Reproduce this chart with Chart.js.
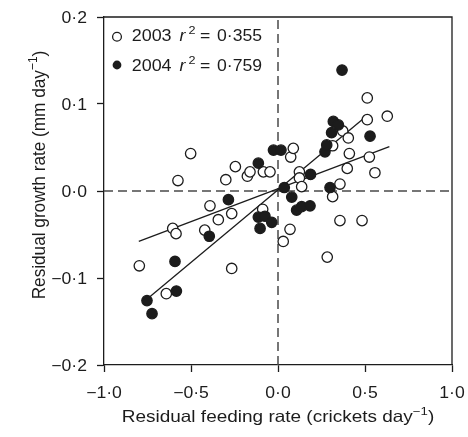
<!DOCTYPE html>
<html><head><meta charset="utf-8">
<script src="https://cdn.jsdelivr.net/npm/chart.js@4/dist/chart.umd.min.js"></script>
<style>html,body{margin:0;padding:0;background:#fff}#wrap{width:468px;height:437px;position:relative}</style>
</head><body><div id="wrap"><canvas id="c" width="468" height="437"></canvas></div>
<script>
// ---- data ----
const x2003 = [-0.797,-0.642,-0.605,-0.586,-0.575,-0.502,-0.421,-0.391,-0.343,-0.300,-0.266,-0.266,-0.245,-0.176,-0.161,-0.088,-0.084,-0.046,0.030,0.069,0.073,0.088,0.123,0.123,0.136,0.283,0.314,0.314,0.356,0.356,0.372,0.398,0.404,0.410,0.483,0.513,0.513,0.525,0.557,0.628];
const y2003 = [-0.086,-0.118,-0.043,-0.049,0.012,0.043,-0.045,-0.017,-0.033,0.013,-0.026,-0.089,0.028,0.017,0.022,-0.021,0.022,0.022,-0.058,-0.044,0.039,0.049,0.022,0.015,0.005,-0.076,0.052,-0.0065,0.008,-0.034,0.069,0.026,0.061,0.043,-0.034,0.082,0.107,0.039,0.021,0.086];
const x2004 = [-0.753,-0.724,-0.592,-0.584,-0.395,-0.285,-0.113,-0.113,-0.103,-0.075,-0.036,-0.026,0.017,0.036,0.079,0.107,0.136,0.184,0.187,0.270,0.280,0.299,0.308,0.318,0.347,0.368,0.529];
const y2004 = [-0.126,-0.141,-0.081,-0.115,-0.052,-0.010,0.032,-0.030,-0.043,-0.029,-0.036,0.047,0.047,0.004,-0.007,-0.022,-0.018,-0.017,0.019,0.045,0.053,0.004,0.067,0.080,0.076,0.139,0.063];
const fit2003X = [-0.80, 0.64];
const fit2003Y = [-0.058, 0.051];
const fit2004X = [-0.74, 0.49];
const fit2004Y = [-0.122, 0.083];
const xTicks = [-1.0, -0.5, 0.0, 0.5, 1.0];
const yTicks = [-0.2, -0.1, 0.0, 0.1, 0.2];
const legendYears = ['2003', '2004'];
const legendR2 = ['0·355', '0·759'];
const xTitle = ['Residual feeding rate (crickets day', '\u22121', ')'];
const yTitle = ['Residual growth rate (mm day', '\u22121', ')'];

const INK = '#1c1c1c';
const FONT = '"Liberation Sans", Arial, Helvetica, sans-serif';

const pts = (xs, ys) => xs.map((x, i) => ({x: x, y: ys[i]}));
const fmt = v => (v < -1e-9 ? '\u2212' : '') + Math.abs(v).toFixed(1).replace('.', '\u00B7');

// draw text horizontally stretched by sx, anchored at (x, y) baseline
function txt(ctx, s, x, y, size, sx, align, italic) {
  ctx.save();
  ctx.font = `${italic ? 'italic ' : ''}${size}px ${FONT}`;
  const w = ctx.measureText(s).width * sx;
  let left = align === 'center' ? x - w / 2 : (align === 'right' ? x - w : x);
  ctx.translate(left, y);
  ctx.scale(sx, 1);
  ctx.textAlign = 'left'; ctx.textBaseline = 'alphabetic';
  ctx.fillText(s, 0, 0);
  ctx.restore();
  return w;
}
function richWidth(ctx, parts, size, supSize, sx) {
  let w = 0;
  parts.forEach(p => { ctx.font = `${p.sup ? supSize : size}px ${FONT}`; w += ctx.measureText(p.t).width * sx; });
  return w;
}
function rich(ctx, parts, x, y, size, supSize, sx, align) {
  const w = richWidth(ctx, parts, size, supSize, sx);
  let cx = align === 'center' ? x - w / 2 : x;
  parts.forEach(p => {
    cx += txt(ctx, p.t, cx, p.sup ? y - 7 : y, p.sup ? supSize : size, sx, 'left', false);
  });
}

const extras = {
  id: 'extras',
  afterDraw(chart) {
    const ctx = chart.ctx, a = chart.chartArea;
    const sxs = chart.scales.x, sys = chart.scales.y;
    ctx.save();
    ctx.strokeStyle = INK; ctx.lineWidth = 1.3;
    ctx.beginPath();
    ctx.moveTo(a.left, a.top); ctx.lineTo(a.right, a.top); ctx.lineTo(a.right, a.bottom);
    ctx.stroke();
    ctx.fillStyle = INK;
    // tick labels
    xTicks.forEach(v => txt(ctx, fmt(v), sxs.getPixelForValue(v), 397.5, 16, 1.1, 'center'));
    yTicks.forEach(v => txt(ctx, fmt(v), 87, sys.getPixelForValue(v) + 5.8, 16, 1.1, 'right'));
    // legend
    const sym = [36.8, 65];
    const base = [40.8, 70.6];
    sym.forEach((cy, i) => {
      ctx.beginPath();
      ctx.arc(117, cy, 4.4, 0, Math.PI * 2);
      if (i === 0) { ctx.fillStyle = '#fff'; ctx.fill(); ctx.lineWidth = 1.3; ctx.stroke(); }
      else { ctx.fillStyle = INK; ctx.fill(); }
      ctx.fillStyle = INK;
      const b = base[i];
      txt(ctx, legendYears[i], 131.7, b, 16, 1.12, 'left');
      txt(ctx, 'r', 179.5, b, 16, 1.1, 'left', true);
      txt(ctx, '2', 188.5, b - 6.5, 11.5, 1.1, 'left');
      txt(ctx, '=', 200, b, 16, 1.1, 'left');
      txt(ctx, legendR2[i], 217, b, 16, 1.1, 'left');
    });
    // x title
    rich(ctx, [{t: xTitle[0]}, {t: xTitle[1], sup: true}, {t: xTitle[2]}], (a.left + a.right) / 2, 421.8, 16.5, 11.5, 1.15, 'center');
    // y title (rotated)
    ctx.save();
    ctx.translate(45, 175);
    ctx.rotate(-Math.PI / 2);
    ctx.scale(1, 1.08);
    rich(ctx, [{t: yTitle[0]}, {t: yTitle[1], sup: true}, {t: yTitle[2]}], 0, 0, 17.2, 12, 1.0, 'center');
    ctx.restore();
    ctx.restore();
  }
};

const pointStyle = (fill) => ({
  showLine: false, pointRadius: 5.2, pointHoverRadius: 5.2, pointBorderWidth: 1.3,
  pointBorderColor: INK, pointBackgroundColor: fill, borderColor: INK, backgroundColor: fill
});
const lineStyle = {
  type: 'line', showLine: true, pointRadius: 0, borderColor: INK, borderWidth: 1.3, fill: false
};
const dashStyle = {
  type: 'line', showLine: true, pointRadius: 0, borderColor: '#4a4a4a', borderWidth: 1.5, borderDash: [9, 5], fill: false
};

new Chart(document.getElementById('c'), {
  type: 'scatter',
  data: {
    datasets: [
      Object.assign({label: '2004', data: pts(x2004, y2004)}, pointStyle(INK)),
      Object.assign({label: '2003', data: pts(x2003, y2003)}, pointStyle('#fff')),
      Object.assign({label: 'fit2004', data: pts(fit2004X, fit2004Y)}, lineStyle),
      Object.assign({label: 'fit2003', data: pts(fit2003X, fit2003Y)}, lineStyle),
      Object.assign({label: 'x0', data: [{x: 0, y: yTicks[0]}, {x: 0, y: yTicks[yTicks.length - 1]}]}, dashStyle),
      Object.assign({label: 'y0', data: [{x: xTicks[0], y: 0}, {x: xTicks[xTicks.length - 1], y: 0}]}, dashStyle)
    ]
  },
  options: {
    responsive: false, animation: false, devicePixelRatio: 1,
    layout: {padding: {left: 0, top: 17, right: 16, bottom: 0}},
    plugins: {legend: {display: false}, tooltip: {enabled: false}},
    scales: {
      x: {
        type: 'linear', min: xTicks[0], max: xTicks[xTicks.length - 1],
        afterBuildTicks: s => { s.ticks = xTicks.map(v => ({value: v})); },
        afterFit: s => { s.height = 72; },
        ticks: {display: false, callback: v => fmt(v)},
        grid: {drawOnChartArea: false, drawTicks: true, tickLength: 7, color: INK, tickWidth: 1.3},
        border: {color: INK, width: 1.3}
      },
      y: {
        type: 'linear', min: yTicks[0], max: yTicks[yTicks.length - 1],
        afterBuildTicks: s => { s.ticks = yTicks.map(v => ({value: v})); },
        afterFit: s => { s.width = 104; },
        ticks: {display: false, callback: v => fmt(v)},
        grid: {drawOnChartArea: false, drawTicks: true, tickLength: 7, color: INK, tickWidth: 1.3},
        border: {color: INK, width: 1.3}
      }
    }
  },
  plugins: [extras]
});
</script>
</body></html>
